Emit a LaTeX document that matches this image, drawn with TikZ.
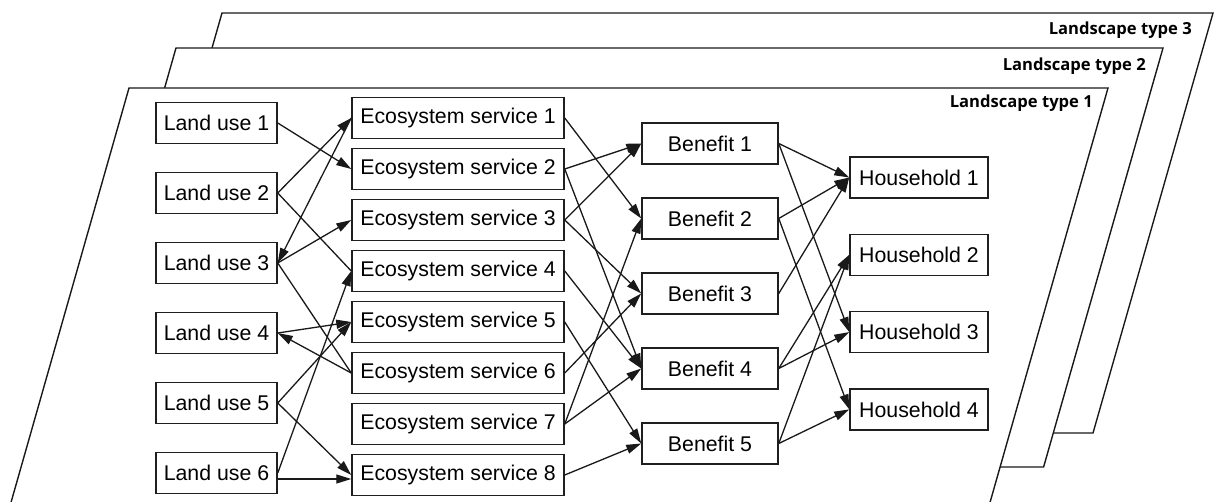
\documentclass[tikz,border=0pt]{standalone}
\usepackage{fontspec}
\setmainfont{Liberation Sans}
\newfontfamily\lblfont{Open Sans}
\usetikzlibrary{arrows.meta}
\begin{document}
\begin{tikzpicture}[x=1pt,y=-1pt,
  box/.style={draw=black!88, line width=1.5pt, minimum height=41pt, inner sep=0pt,
    font=\fontsize{21.3}{25}\selectfont, fill=white},
  lubox/.style={box, minimum width=121pt},
  esbox/.style={box, minimum width=212pt},
  bnbox/.style={box, minimum width=136pt},
  hhbox/.style={box, minimum width=138pt},
  link/.style={line width=1.3pt, draw=black!90},
  arr/.style={link, -{Triangle[length=15pt,width=9pt]}},
  layer/.style={draw=black!90, line width=1.4pt, fill=white},
  layerlabel/.style={font=\lblfont\bfseries\fontsize{16.6}{19}\selectfont,
    anchor=base east, inner sep=0pt}
]
\useasboundingbox (0,0) rectangle (1215,502);
\fill[white] (0,0) rectangle (1215,502);

% stacked landscape layers, back to front
\draw[layer] (222,13) -- (1213,13) -- (1093,433) -- (102,433) -- cycle;
\node[layerlabel] (lt3) at (1192,35) {Landscape type 3};
\draw[layer] (176,48) -- (1163,48) -- (1043.6,467) -- (56.6,467) -- cycle;
\node[layerlabel] (lt2) at (1146,71) {Landscape type 2};
\draw[layer] (129,88) -- (1108,88) -- (985,520) -- (6,520) -- cycle;
\node[layerlabel] (lt1) at (1093,108) {Landscape type 1};

% land uses
\foreach \i in {1,...,6}
  \node[lubox] (lu\i) at (216.5,{123+70*(\i-1)}) {Land use \i};
% ecosystem services
\foreach \i in {1,...,8}
  \node[esbox] (es\i) at (458,{118+51*(\i-1)}) {Ecosystem service \i};
% benefits
\foreach \i in {1,...,5}
  \node[bnbox] (bn\i) at (710,{143.5+75*(\i-1)}) {Benefit \i};
% households
\foreach \i in {1,...,4}
  \node[hhbox] (hh\i) at (919,{177.5+77.3*(\i-1)}) {Household \i};

% land use <-> ecosystem service
\draw[arr] (lu1.east) -- (es2.west);
\draw[arr] (lu2.east) -- (es1.west);
\draw[link] (lu2.east) -- (es4.west);
\draw[arr] (es1.west) -- (lu3.east);
\draw[arr] (lu3.east) -- (es3.west);
\draw[link] (lu3.east) -- (es6.west);
\draw[arr] (lu4.east) -- (es5.west);
\draw[arr] (es6.west) -- (lu4.east);
\draw[arr] (lu5.east) -- (es5.west);
\draw[arr] (lu5.east) -- (es8.west);
\draw[arr] (lu6.east) -- (es4.west);
\draw[arr] ([yshift=-6pt]lu6.east) -- ([yshift=-6pt]lu6.east -| es8.west);

% ecosystem service -> benefit
\draw[arr] (es1.east) -- (bn2.west);
\draw[arr] (es2.east) -- (bn1.west);
\draw[arr] (es2.east) -- (bn4.west);
\draw[arr] (es3.east) -- (bn1.west);
\draw[arr] (es3.east) -- (bn3.west);
\draw[arr] (es4.east) -- (bn4.west);
\draw[arr] (es5.east) -- (bn5.west);
\draw[arr] (es6.east) -- (bn3.west);
\draw[arr] (es7.east) -- (bn2.west);
\draw[arr] (es7.east) -- (bn4.west);
\draw[arr] (es8.east) -- (bn5.west);

% benefit -> household
\draw[arr] (bn1.east) -- (hh1.west);
\draw[arr] (bn1.east) -- (hh3.west);
\draw[arr] (bn2.east) -- (hh1.west);
\draw[arr] (bn2.east) -- (hh4.west);
\draw[arr] (bn3.east) -- (hh1.west);
\draw[arr] (bn4.east) -- (hh2.west);
\draw[arr] (bn4.east) -- (hh3.west);
\draw[arr] (bn5.east) -- (hh2.west);
\draw[arr] (bn5.east) -- (hh4.west);
\end{tikzpicture}
\end{document}
